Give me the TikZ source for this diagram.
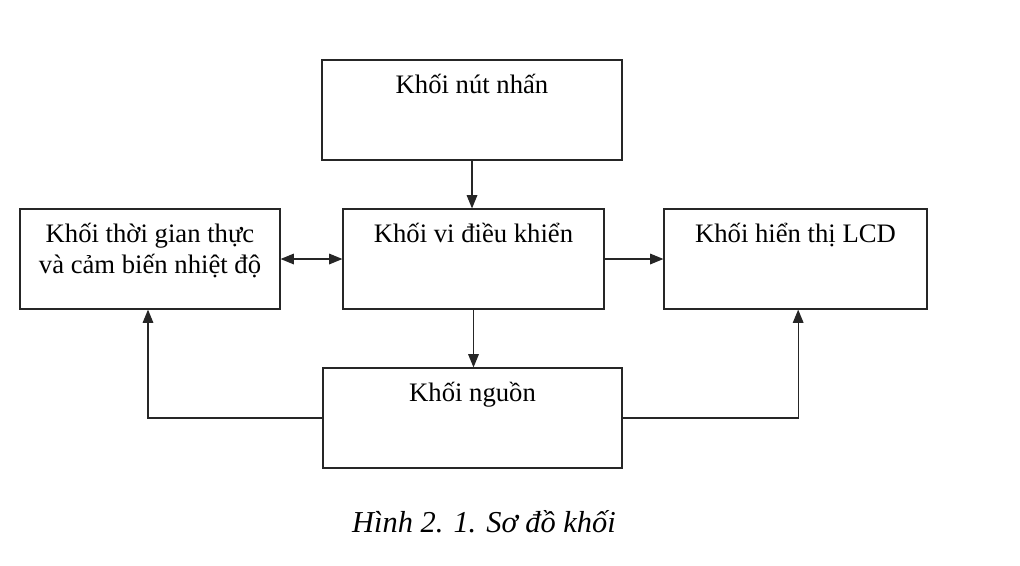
\documentclass[tikz,border=0pt]{standalone}
\usepackage{fontspec}
\setmainfont{Liberation Serif}
\usetikzlibrary{arrows.meta}

\begin{document}
\begin{tikzpicture}[x=0.75pt, y=-0.75pt,
    block/.style={rectangle, draw=black!85, line width=0.9pt, inner xsep=2pt, inner ysep=0pt,
        minimum height=75pt, text height=24.75pt, text depth=50.25pt, align=center,
        font=\fontsize{20pt}{23.25pt}\selectfont},
    line/.style={draw=black!85, line width=0.9pt},
    tip/.style={-{Triangle[length=10pt, width=8pt]}}]
    \useasboundingbox (0,0) rectangle (1020,565);
    %% the width of each block is set with minimum width
    \node (nut) [block, minimum width=225pt] at (472,110) {Khối nút nhấn};
    %% two lines: the baseline is the last one
    \node (rtc) [block, minimum width=195pt, text height=48pt, text depth=27pt] at (150,259) {Khối thời gian thực\\và cảm biến nhiệt độ};
    \node (mcu) [block, minimum width=195.75pt] at (473.5,259) {Khối vi điều khiển};
    \node (lcd) [block, minimum width=197.25pt] at (795.5,259) {Khối hiển thị LCD};
    \node (nguon) [block, minimum width=224.25pt] at (472.5,418) {Khối nguồn};

    \draw [line, tip] (nut.south) -- (nut.south |- mcu.north);
    \draw [line, tip] (mcu.south) -- (mcu.south |- nguon.north);
    \draw [line, {Triangle[length=10pt, width=8pt]}-{Triangle[length=10pt, width=8pt]}] (rtc.east) -- (mcu.west);
    \draw [line, tip] (mcu.east) -- (lcd.west);

    \draw [line, tip] (nguon.west) -| ([xshift=-1.5pt] rtc.south);
    \draw [line, tip] (nguon.east) -| ([xshift=2pt] lcd.south);

    \node (cap) [anchor=base, font=\fontsize{22.8pt}{26pt}\selectfont\itshape] at (484,532) {Hình 2. 1. Sơ đồ khối};
\end{tikzpicture}
\end{document}
